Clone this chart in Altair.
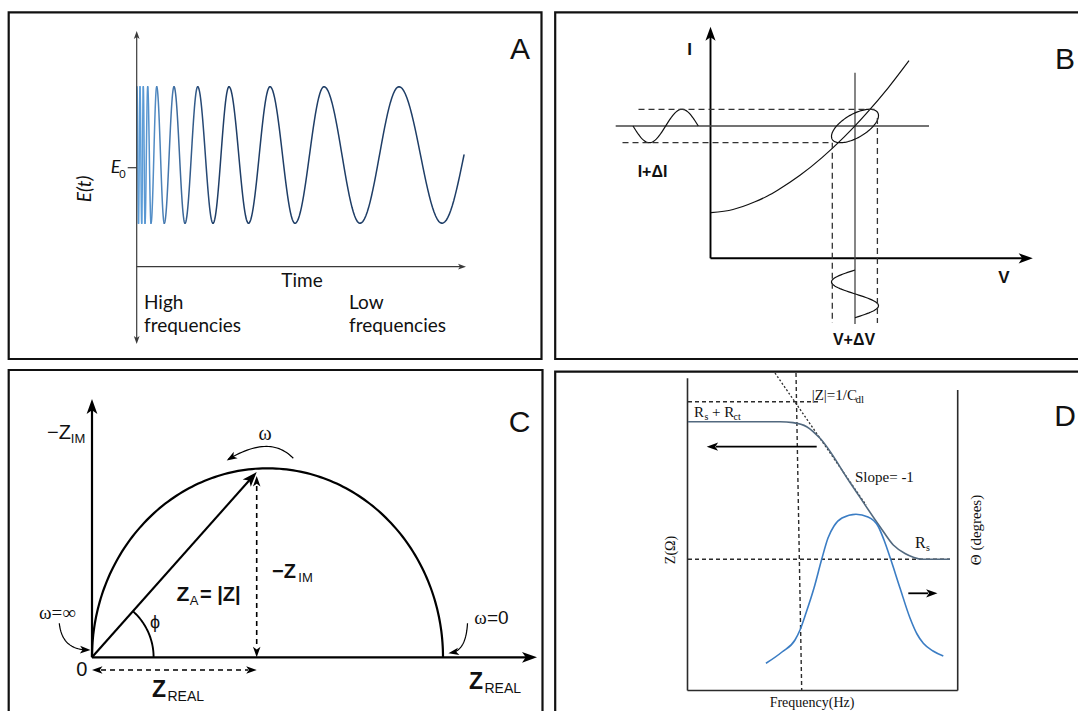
import altair as alt
import numpy as np
import pandas as pd

W, H = 1078, 711

# ---------------------------------------------------------------- panel A
# positions of successive crests / troughs of the swept-sine excitation
chirp_extrema_x = [137.0, 138.5, 140.0, 141.7, 143.3, 145.0, 147.7, 151.0, 156.7,
                   164.3, 174.0, 185.0, 197.7, 213.0, 229.0, 248.5, 270.0, 295.0,
                   324.0, 360.0, 399.0, 442.0]
chirp_end_x = 464.0
chirp_top, chirp_bottom = 86.7, 223.3

# ---------------------------------------------------------------- panel B
iv_curve_x = [711, 733, 755, 767, 778, 800, 822, 844, 855, 866, 888, 909]
iv_curve_y = [212.7, 209.5, 201.8, 196.2, 189.9, 175.3, 157.6, 137.1, 125.9, 113.9, 88.1, 60.7]
op_point = (855.0, 126.0)
dv_amp, di_amp, lag = 23.5, 16.7, 0.9

# ---------------------------------------------------------------- panel C
nyq_origin = (92.0, 657.3)
nyq_rct_end = 443.0
nyq_top_y = 468.3
z_tip = (256.7, 472.0)

# ---------------------------------------------------------------- panel D
bode_mag_x = [688, 780, 793, 806.7, 820, 850, 880, 893.3, 905, 913.3, 922, 950]
bode_mag_y = [421.7, 421.7, 422.6, 426.7, 438.3, 482.5, 526.7, 545.0, 553.5, 557.2, 559.3, 559.3]
bode_phase_x = [766, 782, 795, 800, 806, 814, 821.7, 828, 834, 842, 856, 868, 878, 884,
                890.7, 900, 910, 917, 923.3, 933, 943.3]
bode_phase_y = [663.3, 652, 640, 630, 613, 588, 559.3, 538, 526, 518, 514.3, 517, 526, 540,
                559.3, 588, 618, 634, 643.3, 651, 656]


def X(f="x"):
    return alt.X(f"{f}:Q", scale=alt.Scale(domain=[0, W], nice=False, zero=False), axis=None)


def Y(f="y"):
    return alt.Y(f"{f}:Q", scale=alt.Scale(domain=[0, H], nice=False, zero=False, reverse=True),
                 axis=None)


def paths_df(paths):
    rows = []
    for g, (xs, ys) in enumerate(paths):
        for i, (x, y) in enumerate(zip(xs, ys)):
            rows.append({"x": float(x), "y": float(y), "g": g, "i": i})
    return pd.DataFrame(rows)


def lines(paths, color="#000000", width=1.5, dash=None, interp="linear"):
    kw = dict(color=color, strokeWidth=width, interpolate=interp, strokeCap="butt")
    if dash:
        kw["strokeDash"] = dash
    return alt.Chart(paths_df(paths)).mark_line(**kw).encode(
        x=X(), y=Y(), detail="g:N", order="i:Q")


def seg(x0, y0, x1, y1):
    return ([x0, x1], [y0, y1])


HEAD = "M0,0L0.72,2L0,1.5L-0.72,2Z"


def heads(tips, size, color="#000000"):
    df = pd.DataFrame(tips, columns=["x", "y", "a"])
    df["a"] = df["a"] % 360
    return alt.Chart(df).mark_point(shape=HEAD, filled=True, size=size, color=color,
                                    opacity=1, strokeWidth=0).encode(
        x=X(), y=Y(), angle=alt.Angle("a:Q", scale=None))


def heading(dx, dy):
    return float(np.degrees(np.arctan2(dx, -dy)))


def bezier(p0, c, p1, n=30):
    t = np.linspace(0, 1, n)
    xs = (1 - t) ** 2 * p0[0] + 2 * (1 - t) * t * c[0] + t ** 2 * p1[0]
    ys = (1 - t) ** 2 * p0[1] + 2 * (1 - t) * t * c[1] + t ** 2 * p1[1]
    return xs, ys


layers = []

# ---------------- panel frames
frames = pd.DataFrame({
    "x": [8.7, 555.2, 8.7, 555.2], "x2": [541.5, 1100, 542.5, 1100],
    "y": [12.3, 12.3, 370.0, 371.7], "y2": [359.0, 359.0, 740, 740]})
layers.append(alt.Chart(frames).mark_rect(fill=None, stroke="#111111", strokeWidth=2.2,
                                          clip=True).encode(
    x=X(), x2=alt.X2("x2"), y=Y(), y2=alt.Y2("y2")))

# ---------------- panel A
mid = (chirp_top + chirp_bottom) / 2
amp = (chirp_bottom - chirp_top) / 2
wave_rows = []
ex = chirp_extrema_x
for k in range(len(ex)):
    x0 = ex[k]
    if k + 1 < len(ex):
        span = ex[k + 1] - x0
        t = np.linspace(0, 1, 28)
    else:
        span = 2 * (chirp_end_x - x0)
        t = np.linspace(0, 0.5, 16)
    s = -1 if k % 2 == 0 else 1
    xs = x0 + t * span
    ys = mid + s * amp * np.cos(np.pi * t)
    for i, (x, y) in enumerate(zip(xs, ys)):
        wave_rows.append({"x": x, "y": y, "g": k, "i": i, "c": x0 + span / 2})
wave = pd.DataFrame(wave_rows)
layers.append(alt.Chart(wave).mark_line(strokeWidth=1.5, strokeCap="round").encode(
    x=X(), y=Y(), detail="g:N", order="i:Q",
    color=alt.Color("c:Q", scale=alt.Scale(domain=[140, 215], range=["#5d9fdb", "#1f3e67"],
                                           clamp=True), legend=None)))

layers.append(lines([seg(136.7, 35, 136.7, 340), seg(136.7, 266.7, 461, 266.7),
                     seg(127.7, 167.7, 136.7, 167.7)], color="#3a3a3a", width=1.2))
layers.append(heads([(136.7, 31.0, 0), (136.7, 344.0, 180), (466.0, 266.7, 90)], 64,
                    color="#3a3a3a"))

# ---------------- panel B
cx, cy = op_point
layers.append(lines([seg(710.5, 258.3, 710.5, 34), seg(710.5, 258.3, 1024, 258.3)],
                    color="#000000", width=1.9))
layers.append(heads([(710.5, 26.7, 0), (1032.8, 258.3, 90)], 200))

t = np.linspace(0, 2 * np.pi, 120)
ell = (cx + dv_amp * np.sin(t), cy - di_amp * np.sin(t + lag))
xi = np.linspace(633, 698.3, 60)
i_wave = (xi, cy + di_amp * np.sin(2 * np.pi * (xi - 633) / (698.3 - 633)))
yv = np.linspace(270, 317.7, 60)
v_wave = (cx - dv_amp * np.sin(2 * np.pi * (yv - 270) / (317.7 - 270)), yv)
layers.append(lines([seg(615.7, cy, 929, cy), seg(cx, 72.7, cx, 324)],
                    color="#444444", width=1.3))
layers.append(lines([ell, i_wave, v_wave], color="#111111", width=1.2))
layers.append(lines([(iv_curve_x, iv_curve_y)], color="#111111", width=1.2,
                    interp="monotone"))
layers.append(lines([seg(638.5, 109.3, 876, 109.3), seg(622.5, 142.7, 832.3, 142.7),
                     seg(832.3, 142.7, 832.3, 323), seg(877.4, 118, 877.4, 323)],
                    color="#333333", width=1.3, dash=[6, 4]))

# ---------------- panel C
ox, oy = nyq_origin
rx = (nyq_rct_end - ox) / 2
ry = oy - nyq_top_y
th = np.linspace(0, np.pi, 160)
semi = (ox + rx + rx * np.cos(th), oy - ry * np.sin(th))
ang = np.arctan2(oy - z_tip[1], z_tip[0] - ox)
tp = np.linspace(0, ang, 40)
phi_arc = (ox + 61.6 * np.cos(tp), oy - 61.6 * np.sin(tp))
vx, vy = z_tip[0] - ox, z_tip[1] - oy
layers.append(lines([seg(ox, oy, ox, 410), seg(ox, oy, 528, oy), semi], width=2.2))
layers.append(lines([seg(ox, oy, z_tip[0] - 0.6 * vx / np.hypot(vx, vy) * 10,
                         z_tip[1] - 0.6 * vy / np.hypot(vx, vy) * 10)], width=2.1))
layers.append(lines([phi_arc], width=1.9))
layers.append(lines([seg(z_tip[0], 486, z_tip[0], 648), seg(101, 670, 248, 670)],
                    width=1.6, dash=[5, 4]))
w_arc = bezier((293.3, 458.3), (270, 434), (228, 459.5))
inf_arc = bezier((59.3, 623.3), (62, 649), (86, 649.8))
zero_arc = bezier((467.5, 623.3), (466, 650), (452, 652.6))
layers.append(lines([w_arc, inf_arc, zero_arc], width=1.2))
layers.append(heads([(ox, 399, 0), (537, oy, 90),
                     (z_tip[0], z_tip[1], heading(vx, vy))], 225))
layers.append(heads([(z_tip[0], 476, 0), (z_tip[0], oy, 180),
                     (ox, 670, 270), (z_tip[0], 670, 90)], 110))
layers.append(heads([(226.7, 460.5, heading(-43.3, 26)),
                     (90.5, 650, heading(28, 1)),
                     (448.4, 653.3, heading(-17.6, 3.3))], 110))

# ---------------- panel D
layers.append(lines([seg(687.5, 378.3, 687.5, 690.5), seg(687.5, 690.5, 957.7, 690.5),
                     seg(957.7, 390, 957.7, 690.5)], color="#2b2b2b", width=1.6))
layers.append(lines([seg(688, 401.7, 818.3, 401.7), seg(796, 373, 801.7, 690),
                     seg(688, 559.3, 950, 559.3)], color="#2b2b2b", width=1.4, dash=[4, 3]))
layers.append(lines([seg(775, 373, 866, 505)], color="#2b2b2b", width=1.3, dash=[2, 2]))
layers.append(lines([(bode_mag_x, bode_mag_y)], color="#52697f", width=1.6,
                    interp="monotone"))
layers.append(lines([(bode_phase_x, bode_phase_y)], color="#3b7dc4", width=1.6,
                    interp="monotone"))
layers.append(lines([seg(816.7, 446.7, 716, 446.7), seg(908.3, 593.3, 928, 593.3)],
                    width=1.8))
layers.append(heads([(706.7, 446.7, 270), (937.5, 593.3, 90)], 130))

# ---------------- text
texts = [
    # text, x, y, size, angle, font, weight, style, align
    ("A", 520, 50, 30, 0, "Liberation Sans", "normal", "normal", "center"),
    ("B", 1065, 60, 30, 0, "Liberation Sans", "normal", "normal", "center"),
    ("C", 519.6, 423.3, 30, 0, "Liberation Sans", "normal", "normal", "center"),
    ("D", 1065, 416.7, 30, 0, "Liberation Sans", "normal", "normal", "center"),
    ("Time", 302, 281, 19, 0, "Lato", "normal", "normal", "center"),
    ("High", 144, 303, 19, 0, "Lato", "normal", "normal", "left"),
    ("frequencies", 144, 326, 19, 0, "Lato", "normal", "normal", "left"),
    ("Low", 349, 303, 19, 0, "Lato", "normal", "normal", "left"),
    ("frequencies", 349, 326, 19, 0, "Lato", "normal", "normal", "left"),
    ("E", 115.5, 168, 18, 0, "Lato", "normal", "italic", "center"),
    ("0", 122.5, 175, 11, 0, "Lato", "normal", "normal", "center"),
    ("E(t)", 85, 189, 19, 270, "Lato", "normal", "italic", "center"),
    ("I", 689.5, 50, 17, 0, "Liberation Sans", "bold", "normal", "center"),
    ("V", 1004, 278, 17, 0, "Liberation Sans", "bold", "normal", "center"),
    ("I+ΔI", 652.5, 171.7, 16, 0, "Liberation Sans", "bold", "normal", "center"),
    ("V+ΔV", 854, 340, 16, 0, "Liberation Sans", "bold", "normal", "center"),
    ("−Z", 59, 433, 20, 0, "Liberation Sans", "normal", "normal", "center"),
    ("IM", 78, 439, 13, 0, "Liberation Sans", "normal", "normal", "center"),
    ("−Z", 284, 571.7, 20, 0, "Liberation Sans", "bold", "normal", "center"),
    ("IM", 305.5, 577.5, 13, 0, "Liberation Sans", "normal", "normal", "center"),
    ("Z", 183, 595, 21, 0, "Liberation Sans", "bold", "normal", "center"),
    ("A", 194, 601, 13, 0, "Liberation Sans", "normal", "normal", "center"),
    ("= |Z|", 200, 595, 20, 0, "Liberation Sans", "bold", "normal", "left"),
    ("0", 81.7, 670, 20, 0, "Liberation Sans", "normal", "normal", "center"),
    ("Z", 159, 690, 23, 0, "Liberation Sans", "bold", "normal", "center"),
    ("REAL", 167.5, 697, 14, 0, "Liberation Sans", "normal", "normal", "left"),
    ("Z", 476, 681.7, 23, 0, "Liberation Sans", "bold", "normal", "center"),
    ("REAL", 484.5, 688.5, 14, 0, "Liberation Sans", "normal", "normal", "left"),
    ("ϕ", 155, 623, 18, 0, "Liberation Sans", "normal", "normal", "center"),
    ("ω", 265, 434, 20, 0, "Liberation Serif", "normal", "normal", "center"),
    ("ω=∞", 57.5, 613, 19, 0, "Liberation Serif", "normal", "normal", "center"),
    ("ω", 480.5, 618.3, 19, 0, "Liberation Serif", "normal", "normal", "center"),
    ("=0", 487, 618.3, 19, 0, "Liberation Sans", "normal", "normal", "left"),
    ("|Z|=1/C", 811.7, 395, 15, 0, "Liberation Serif", "normal", "normal", "left"),
    ("dl", 855.5, 399.5, 11, 0, "Liberation Serif", "normal", "normal", "left"),
    ("R", 694, 411.5, 15, 0, "Liberation Serif", "normal", "normal", "left"),
    ("s", 704.5, 416.5, 10, 0, "Liberation Serif", "normal", "normal", "left"),
    ("+ R", 712, 411.5, 15, 0, "Liberation Serif", "normal", "normal", "left"),
    ("ct", 733.5, 416.5, 10, 0, "Liberation Serif", "normal", "normal", "left"),
    ("Slope= -1", 855, 477, 15, 0, "Liberation Serif", "normal", "normal", "left"),
    ("R", 915, 543, 16, 0, "Liberation Serif", "normal", "normal", "left"),
    ("s", 926, 548, 10, 0, "Liberation Serif", "normal", "normal", "left"),
    ("Frequency(Hz)", 812, 703, 14, 0, "Liberation Serif", "normal", "normal", "center"),
    ("Z(Ω)", 671, 550, 14, 270, "Liberation Serif", "normal", "normal", "center"),
    ("Θ (degrees)", 976, 530, 15, 270, "Liberation Serif", "normal", "normal", "center"),
]
tdf = pd.DataFrame(texts, columns=["t", "x", "y", "s", "a", "font", "weight", "style", "align"])
for (font, weight, style, align), grp in tdf.groupby(["font", "weight", "style", "align"]):
    layers.append(alt.Chart(grp).mark_text(font=font, fontWeight=weight, fontStyle=style,
                                           align=align, baseline="middle",
                                           color="#111111").encode(
        x=X(), y=Y(), text="t:N",
        size=alt.Size("s:Q", scale=None), angle=alt.Angle("a:Q", scale=None)))

chart = alt.layer(*layers).properties(
    width=W, height=H, padding=0, autosize="none", background="white"
).configure_view(stroke=None)

chart.save("out.html", embed_options={"renderer": "svg", "actions": False})
